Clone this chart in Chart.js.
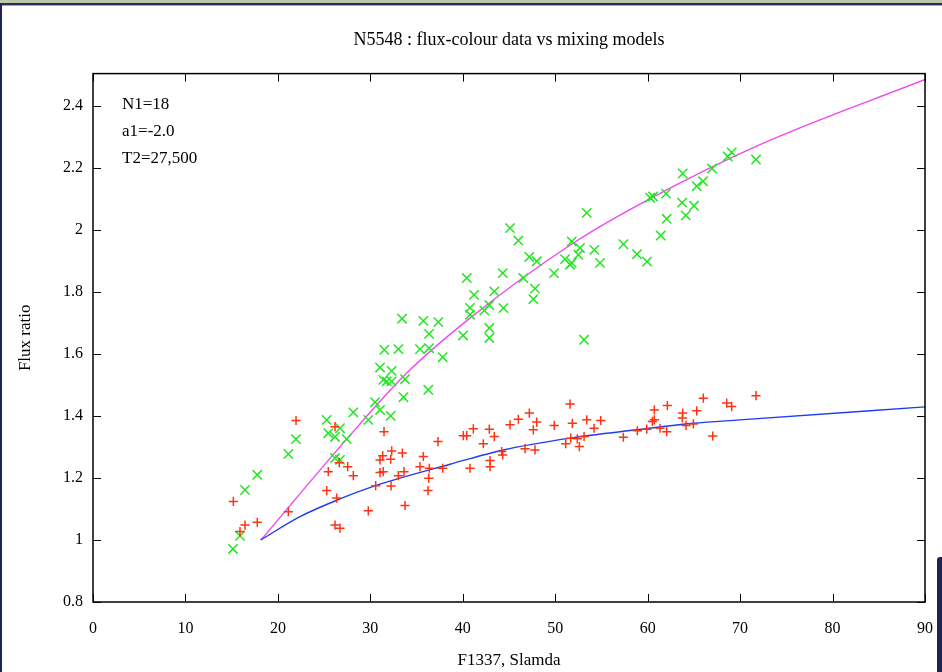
<!DOCTYPE html>
<html><head><meta charset="utf-8">
<script src="https://cdn.jsdelivr.net/npm/chart.js@4.4.0/dist/chart.umd.min.js"></script>
<style>
html,body{margin:0;padding:0;background:#fff;overflow:hidden;width:942px;height:672px;}
canvas{position:absolute;left:0;top:0;}
.deco{position:absolute;}
</style></head><body>
<canvas id="c" width="942" height="672"></canvas>
<div class="deco" style="left:0;top:0;width:942px;height:3px;background:#bec8a6"></div>
<div class="deco" style="left:0;top:3px;width:942px;height:2px;background:#262c5c"></div>
<div class="deco" style="left:0;top:5px;width:942px;height:1px;background:#a4a8bc"></div>
<div class="deco" style="left:0;top:3px;width:2px;height:669px;background:#1e2456"></div>
<div class="deco" style="left:937px;top:557px;width:5px;height:115px;background:#1e2456;border-top-left-radius:3px"></div>
<script>
const chartTitle = 'N5548 : flux-colour data vs mixing models';
const xTitle = 'F1337, Slamda';
const yTitle = 'Flux ratio';
const annotationLines = ['N1=18', 'a1=-2.0', 'T2=27,500'];

const xTickValues = [0, 10, 20, 30, 40, 50, 60, 70, 80, 90];
const yTickValues = [0.8, 1.0, 1.2, 1.4, 1.6, 1.8, 2.0, 2.2, 2.4];
const yTickLabels = ['0.8', '1', '1.2', '1.4', '1.6', '1.8', '2', '2.2', '2.4'];

const redX = [15.18,15.90,16.44,17.77,21.13,21.96,26.18,25.45,25.28,26.36,
26.18,26.72,26.64,27.55,28.16,31.48,31.05,31.34,32.31,32.20,
31.05,31.40,30.58,29.78,32.24,33.03,33.64,33.46,33.75,35.73,
35.37,36.38,36.32,36.24,37.32,37.83,40.06,40.43,41.14,42.22,
42.87,43.41,42.95,42.95,40.78,44.21,44.32,45.11,46.01,47.20,
48.00,47.63,46.73,47.81,49.90,51.60,51.85,51.68,51.14,52.61,
52.39,53.12,53.41,54.20,54.92,57.37,58.88,59.90,60.51,60.72,
60.72,62.13,61.34,62.06,63.79,63.75,64.15,64.94,65.31,66.02,
67.04,68.55,69.09,71.72];
const redY = [1.124,1.027,1.048,1.057,1.091,1.385,1.365,1.220,1.159,1.135,
1.048,1.038,1.249,1.236,1.207,1.349,1.258,1.271,1.287,1.260,
1.217,1.220,1.175,1.094,1.174,1.207,1.220,1.280,1.111,1.269,
1.236,1.231,1.199,1.159,1.317,1.231,1.336,1.336,1.358,1.310,
1.357,1.333,1.256,1.236,1.231,1.285,1.274,1.371,1.389,1.409,
1.380,1.355,1.294,1.290,1.369,1.438,1.376,1.328,1.310,1.301,
1.326,1.333,1.387,1.360,1.385,1.331,1.352,1.357,1.382,1.387,
1.419,1.433,1.360,1.349,1.409,1.393,1.369,1.374,1.416,1.457,
1.335,1.441,1.430,1.465];

const greenX = [15.14,15.90,16.44,17.77,21.13,21.96,25.28,25.45,26.18,26.72,
27.44,26.18,26.72,28.16,29.78,30.51,31.05,31.05,32.31,31.40,
31.77,32.31,32.20,31.51,33.03,33.43,33.59,33.75,35.73,35.37,
36.35,36.35,36.27,37.35,37.83,40.03,40.43,40.78,40.78,41.22,
42.33,42.87,42.87,42.87,43.41,44.39,44.32,45.11,46.01,46.55,
47.20,47.63,47.81,48.00,49.87,51.06,51.60,51.79,51.79,52.50,
52.68,53.12,53.41,54.23,54.85,57.37,58.85,59.93,60.26,60.58,
61.41,61.99,62.06,63.79,63.72,64.12,65.01,65.31,65.99,66.96,
68.66,69.09,71.72];
const greenY = [0.971,1.013,1.161,1.210,1.277,1.325,1.387,1.344,1.332,1.360,
1.325,1.264,1.258,1.411,1.387,1.444,1.419,1.556,1.545,1.516,
1.511,1.511,1.400,1.613,1.615,1.713,1.460,1.518,1.706,1.615,
1.618,1.664,1.484,1.702,1.589,1.659,1.844,1.748,1.726,1.790,
1.740,1.757,1.683,1.651,1.801,1.747,1.860,2.005,1.965,1.844,
1.912,1.776,1.810,1.898,1.860,1.905,1.887,1.893,1.962,1.919,
1.941,1.645,2.054,1.935,1.893,1.953,1.921,1.897,2.103,2.107,
1.981,2.116,2.035,2.181,2.087,2.046,2.077,2.140,2.156,2.197,
2.236,2.249,2.226];

const magentaModelX = [18.17, 27.44, 33.94, 40.78, 51.96, 60.07, 72.15, 90];
const magentaModelY = [1.000, 1.325, 1.538, 1.715, 1.957, 2.097, 2.274, 2.484];
const blueModelX = [18.14, 22.39, 26.36, 30.58, 38.62, 44.39, 51.60, 58.82, 64.94, 69.99, 90];
const blueModelY = [1.000, 1.075, 1.128, 1.175, 1.244, 1.290, 1.328, 1.355, 1.376, 1.387, 1.429];

const zip = (xs, ys) => xs.map((x, i) => ({x, y: ys[i]}));
const serif = 'Liberation Serif';

const framePlugin = {
  id: 'frame',
  afterDatasetsDraw(chart) {
    const {ctx, chartArea: a, scales: {x, y}} = chart;
    ctx.save();
    ctx.strokeStyle = '#000';
    ctx.lineWidth = 1.5;
    ctx.strokeRect(a.left, a.top, a.right - a.left, a.bottom - a.top);
    ctx.lineWidth = 1;
    ctx.beginPath();
    x.ticks.forEach(t => {
      const p = Math.round(x.getPixelForValue(t.value)) + 0.5;
      ctx.moveTo(p, a.bottom); ctx.lineTo(p, a.bottom - 8);
      ctx.moveTo(p, a.top); ctx.lineTo(p, a.top + 8);
    });
    y.ticks.forEach(t => {
      const p = Math.round(y.getPixelForValue(t.value)) + 0.5;
      ctx.moveTo(a.left, p); ctx.lineTo(a.left + 8, p);
      ctx.moveTo(a.right, p); ctx.lineTo(a.right - 8, p);
    });
    ctx.stroke();
    ctx.fillStyle = '#000';
    ctx.font = '17px "' + serif + '"';
    ctx.textBaseline = 'alphabetic';
    ctx.textAlign = 'left';
    annotationLines.forEach((s, i) => ctx.fillText(s, a.left + 29, a.top + 35 + 27 * i));
    ctx.restore();
  }
};

new Chart(document.getElementById('c').getContext('2d'), {
  type: 'scatter',
  data: {
    datasets: [
      {label: 'red', data: zip(redX, redY), pointStyle: 'cross', pointRadius: 4.6, pointBorderWidth: 1.5,
       borderColor: '#ff3212', backgroundColor: '#ff3212', showLine: false},
      {label: 'green', data: zip(greenX, greenY), pointStyle: 'crossRot', pointRadius: 6.6, pointBorderWidth: 1.5,
       borderColor: '#22e622', backgroundColor: '#22e622', showLine: false},
      {type: 'line', label: 'blue model', data: zip(blueModelX, blueModelY), borderColor: '#1f3cf0',
       borderWidth: 1.4, pointRadius: 0, cubicInterpolationMode: 'monotone', fill: false},
      {type: 'line', label: 'magenta model', data: zip(magentaModelX, magentaModelY), borderColor: '#f048f0',
       borderWidth: 1.4, pointRadius: 0, cubicInterpolationMode: 'monotone', fill: false}
    ]
  },
  options: {
    responsive: false, animation: false, devicePixelRatio: 1,
    layout: {padding: {left: 0, right: 17, top: 0, bottom: 0}},
    plugins: {
      legend: {display: false}, tooltip: {enabled: false},
      title: {display: true, text: chartTitle, fullSize: false, color: '#000',
        font: {family: serif, size: 18, weight: 'normal'}, padding: {top: 29, bottom: 23}}
    },
    scales: {
      x: {
        type: 'linear', min: 0, max: 90,
        grid: {display: false, drawTicks: false}, border: {display: false},
        afterBuildTicks: s => { s.ticks = xTickValues.map(v => ({value: v})); },
        afterFit: s => { s.height = 70; s.paddingLeft = 0; s.paddingRight = 0; },
        ticks: {padding: 17, maxRotation: 0, autoSkip: false, color: '#000',
          font: {family: serif, size: 16}, callback: (v, i) => String(xTickValues[i])},
        title: {display: true, text: xTitle, color: '#000', font: {family: serif, size: 17}, padding: {top: 0, bottom: 1}}
      },
      y: {
        type: 'linear', min: 0.8, max: 2.503,
        grid: {display: false, drawTicks: false}, border: {display: false},
        afterBuildTicks: s => { s.ticks = yTickValues.map(v => ({value: v})); },
        afterFit: s => { s.width = 93; s.paddingTop = 0; s.paddingBottom = 0; },
        ticks: {padding: 10, autoSkip: false, color: '#000',
          font: {family: serif, size: 16}, callback: (v, i) => yTickLabels[i]},
        title: {display: true, text: yTitle, color: '#000', font: {family: serif, size: 17}, padding: {top: 15, bottom: 0}}
      }
    }
  },
  plugins: [framePlugin]
});
</script>
</body></html>
